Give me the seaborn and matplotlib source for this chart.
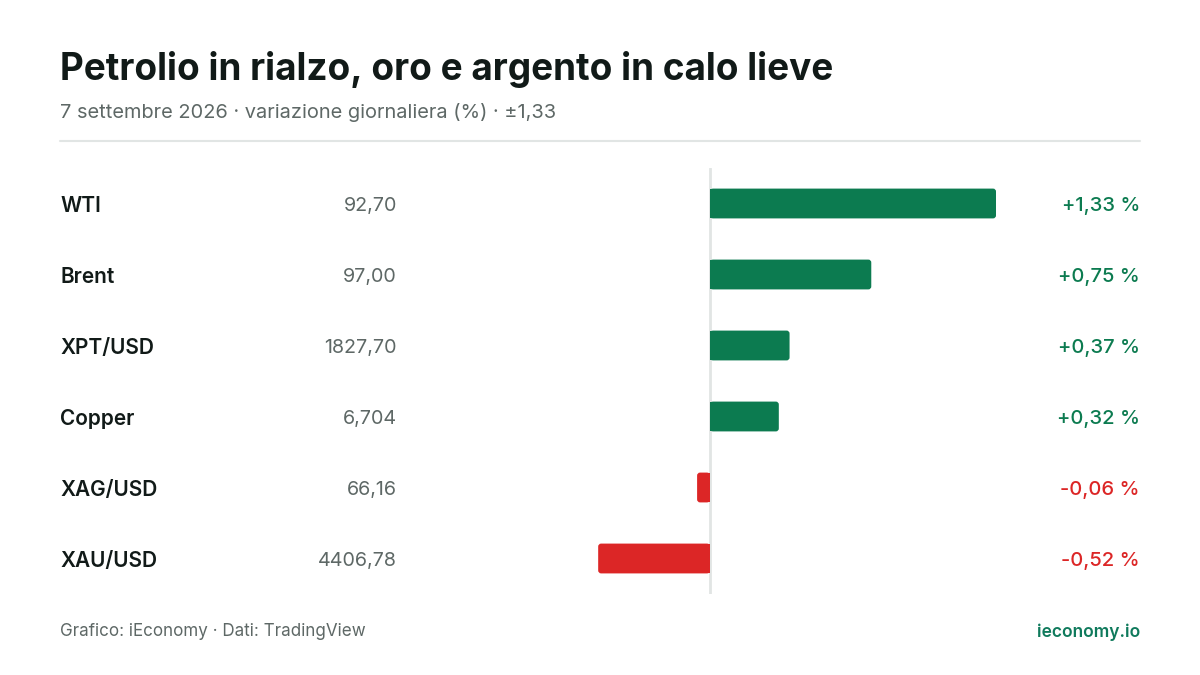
import matplotlib
matplotlib.use("Agg")
import matplotlib.pyplot as plt
from matplotlib.patches import FancyBboxPatch, Rectangle
import seaborn as sns
import pandas as pd

W, H = 1200, 675

assets = ["WTI", "Brent", "XPT/USD", "Copper", "XAG/USD", "XAU/USD"]
prices = ["92,70", "97,00", "1827,70", "6,704", "66,16", "4406,78"]
changes = [1.33, 0.75, 0.37, 0.32, -0.06, -0.52]
change_labels = ["+1,33 %", "+0,75 %", "+0,37 %", "+0,32 %", "-0,06 %", "-0,52 %"]

title = "Petrolio in rialzo, oro e argento in calo lieve"
subtitle = "7 settembre 2026 \u00b7 variazione giornaliera (%) \u00b7 \u00b11,33"
source = "Grafico: iEconomy \u00b7 Dati: TradingView"
brand = "ieconomy.io"

GREEN = "#0c7b50"
RED = "#dc2626"
DARK = "#111a18"
GREY = "#5e6866"
RULE = "#e1e5e4"

sns.set_theme(style="white")
plt.rcParams["font.family"] = ["Inter", "DejaVu Sans"]


def fx(px):
    return px / W


def fy(py):
    return 1 - py / H


df = pd.DataFrame({"asset": assets, "change": changes})
df["sign"] = ["up" if c >= 0 else "down" for c in changes]

fig = plt.figure(figsize=(12, 6.75), dpi=100)
fig.patch.set_facecolor("white")

# bar area: x from 424 to 996 px (symmetric +-1.33), y from 168 to 594 px
ax = fig.add_axes([fx(424), fy(594), fx(996) - fx(424), (594 - 168) / H])
sns.barplot(data=df, y="asset", x="change", hue="sign",
            palette={"up": GREEN, "down": RED}, order=assets, saturation=1,
            width=0.42, dodge=False, legend=False, ax=ax)
ax.set_xlim(-1.33, 1.33)
ax.set_ylim(5.5, -0.5)
ax.axis("off")

# rounded outer end, square end at zero
x_per_px = 2.66 / (996 - 424)
y_per_px = 6.0 / (594 - 168)
r = 3 * x_per_px
for p in list(ax.patches):
    x0, y0 = p.get_x(), p.get_y()
    w, h = p.get_width(), p.get_height()
    col = p.get_facecolor()
    p.set_visible(False)
    left = min(x0, x0 + w)
    wid = abs(w)
    ax.add_patch(FancyBboxPatch((left, y0), wid, h,
                                boxstyle=f"round,pad=0,rounding_size={r}",
                                mutation_aspect=y_per_px / x_per_px,
                                facecolor=col, edgecolor="none", zorder=3))
    half = wid / 2
    sq_x = left if w >= 0 else left + half
    ax.add_patch(Rectangle((sq_x, y0), half, h, facecolor=col,
                           edgecolor="none", zorder=3))

ax.axvline(0, color=RULE, lw=2, zorder=2)

# header
fig.text(fx(60), fy(69), title, fontsize=26.6, fontweight="bold", color=DARK,
         ha="left", va="center")
fig.text(fx(60), fy(113), subtitle, fontsize=14.4, color=GREY,
         ha="left", va="center")
fig.add_artist(plt.Line2D([fx(60), fx(1140)], [fy(141), fy(141)],
                          color=RULE, lw=1.5))

# row texts
for i, (a, pr, c, cl) in enumerate(zip(assets, prices, changes, change_labels)):
    yc = fy(204 + 71 * i)
    fig.text(fx(60), yc, a, fontsize=15, fontweight="semibold", color=DARK,
             ha="left", va="center_baseline")
    fig.text(fx(397), yc, pr, fontsize=14.2, color=GREY,
             ha="right", va="center_baseline")
    fig.text(fx(1140), yc, cl, fontsize=14.5, fontweight="medium",
             color=GREEN if c >= 0 else RED, ha="right", va="center_baseline")

# footer
fig.text(fx(60), fy(630), source, fontsize=12.25, color=GREY,
         ha="left", va="center_baseline")
fig.text(fx(1140), fy(630), brand, fontsize=12.5, fontweight="semibold",
         color="#0f7a5c", ha="right", va="center_baseline")

fig.savefig("out.png", dpi=100, facecolor="white")
